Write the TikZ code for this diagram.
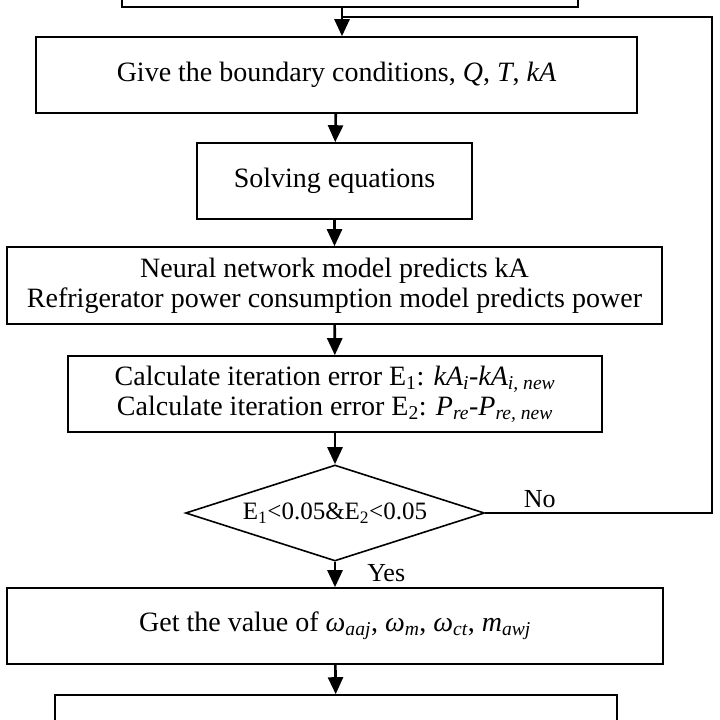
\documentclass[tikz,border=0pt]{standalone}
\usepackage{fontspec}
\setmainfont{Liberation Serif}
\usetikzlibrary{shapes.geometric,arrows.meta}
\begin{document}
\begin{tikzpicture}[x=1pt,y=-1pt,
  box/.style={draw,line width=1.6pt,inner sep=0pt,align=center,font=\fontsize{28}{30}\selectfont},
  cond/.style={draw,diamond,aspect=3.1,line width=1.6pt,inner sep=0pt,minimum width=299pt,minimum height=96pt,font=\fontsize{25}{28}\selectfont},
  arr/.style={line width=2.6pt,-{Triangle[length=17pt,width=15pt]}},
  link/.style={line width=1.8pt},
  lbl/.style={inner sep=0pt,font=\fontsize{26}{28}\selectfont}]
\path[use as bounding box,clip](0,0)rectangle(720,720);
% boxes, top to bottom
\node[box,minimum width=456pt,minimum height=60pt](init)at(350,-23){};
\node[box,minimum width=601pt,minimum height=76pt](bc)at(336.5,75){Give the boundary conditions, \textit{Q}, \textit{T}, \textit{kA}};
\node[box,minimum width=275pt,minimum height=76pt](solve)at(334.5,181){Solving equations};
\node[box,minimum width=655pt,minimum height=77pt](nn)at(334.5,285.5){Neural network model predicts kA\\Refrigerator power consumption model predicts power};
\node[box,minimum width=534pt,minimum height=76pt](err)at(335,394){Calculate iteration error E\textsubscript{1}: \textit{kA\textsubscript{i}}-\textit{kA\textsubscript{i, new}}\\Calculate iteration error E\textsubscript{2}: \textit{P\textsubscript{re}}-\textit{P\textsubscript{re, new}}};
\node[cond](check)at(335,513){E\textsubscript{1}<0.05\&E\textsubscript{2}<0.05};
\node[box,minimum width=656pt,minimum height=76pt](getval)at(335,626){Get the value of \textit{ω\textsubscript{aaj}}, \textit{ω\textsubscript{m}}, \textit{ω\textsubscript{ct}}, \textit{m\textsubscript{awj}}};
\node[box,minimum width=562pt,minimum height=60pt](output)at(336,725){};
% connectors
\coordinate(join)at(342,17);
\draw[arr](init.south -| join)--(join |- bc.north);
\draw[arr](bc)--(solve);
\draw[arr](solve)--(nn);
\draw[arr](nn)--(err);
\draw[arr](err)--(check);
\draw[arr](check)--node[lbl,right=31pt,pos=.45]{Yes}(getval);
\draw[arr](getval)--(output);
\draw[link](check.east)--node[lbl,above=4pt,pos=.24]{No}(712,513)|-(join);
\end{tikzpicture}
\end{document}
